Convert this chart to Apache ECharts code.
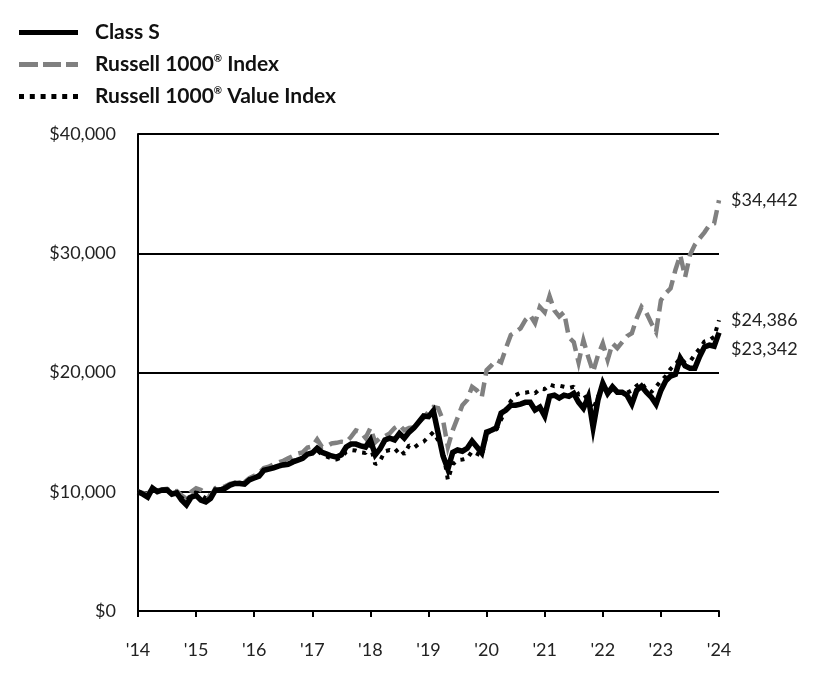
<!DOCTYPE html>
<html>
<head>
<meta charset="utf-8">
<script src="https://cdn.jsdelivr.net/npm/echarts@6/dist/echarts.min.js"></script>
<style>html,body{margin:0;padding:0;background:#fff}#c{width:840px;height:696px}</style>
</head>
<body>
<div id="c"></div>
<script>
const yearLabels = ["'14","'15","'16","'17","'18","'19","'20","'21","'22","'23","'24"];
const yTicks = [0, 10000, 20000, 30000, 40000];

const classS = [
10000,9800,9550,10300,10000,10150,10150,9800,9900,9300,8900,9550,9700,9300,9150,9450,
10150,10150,10300,10550,10700,10700,10650,11000,11150,11300,11800,11900,12000,12150,12250,12300,
12500,12650,12800,13150,13250,13650,13300,13150,13000,12900,13100,13750,14000,14000,13850,13750,
14350,13100,13600,14350,14500,14350,14900,14500,15000,15350,15850,16350,16300,16800,14900,13000,
11900,13300,13500,13400,13650,14250,13750,13250,15000,15150,15350,16600,16850,17250,17250,17350,
17500,17500,16850,17100,16350,18000,18100,17850,18100,18000,18250,17500,17000,17950,15400,17700,
19100,18250,18800,18350,18350,18100,17350,18500,18850,18350,17950,17350,18500,19300,19700,19850,
21200,20550,20350,20350,21350,22150,22300,22200,23342
];

const russell1000 = [
10000,9900,9800,10300,10100,10200,10250,10000,10050,9700,9400,10000,10300,10150,9800,9600,
10300,10350,10450,10650,10750,10800,10800,11150,11350,11550,12000,12100,12300,12450,12600,12800,
13000,13200,13300,13700,13800,14400,13750,13800,14050,14100,14200,14150,14600,15150,15000,14500,
15350,14150,14500,14650,14900,15350,15600,15150,15350,15400,15850,16200,16700,17100,17000,16000,
13750,15150,16200,17250,17700,18800,18500,17950,20200,20600,21050,20850,22050,23150,23400,23700,
24400,24800,24150,25500,25050,26400,25200,24700,25050,22950,22550,20850,22700,21300,20050,21450,
22450,21050,22450,22050,22550,23050,23300,24550,25500,25000,24150,23400,26050,26650,27050,28600,
29850,28000,29850,30700,31250,31750,32350,32500,34442
];

const russellValue = [
10000,9850,9700,10250,10050,10150,10200,9900,9950,9500,9200,9800,9950,9700,9450,9600,
10200,10200,10350,10600,10700,10750,10700,11050,11200,11400,11800,11900,12050,12200,12300,12400,
12600,12700,12850,13200,13300,13500,13100,12950,12800,12700,12900,13350,13500,13450,13300,13250,
13900,12300,12600,13400,13500,13300,13650,13150,13900,13700,14000,14200,14600,15000,14300,13400,
11000,12300,12650,12700,12800,13400,13200,13000,14800,15200,15200,16050,16900,17600,18100,18300,
18300,18400,18250,18650,18600,19000,18850,18900,18800,18700,18800,18150,18250,17600,16900,17950,
18800,18300,18550,18400,18300,18300,18500,18900,19150,18550,18350,18800,19300,19700,20300,20700,
21200,20800,20900,21500,22000,22600,22700,23000,24386
];

const seriesNames = ['Class S', 'Russell 1000® Index', 'Russell 1000® Value Index'];

const fmtMoney = v => '$' + Math.round(v).toLocaleString('en-US');
const toPts = arr => arr.map((v, i) => [i, v]);
const FONT = 'Lato';

// legend icon shapes (59 x 5 box)
const iconSolid = 'path://M0,0H59V5H0Z';
const iconDash = 'path://M0,0H19V5H0Z M24,0H42V5H24Z M47,0H59V5H47Z';
const iconDot = 'path://M0,0H5V5H0Z M10.8,0H15.8V5H10.8Z M21.6,0H26.6V5H21.6Z M32.4,0H37.4V5H32.4Z M43.2,0H48.2V5H43.2Z M54,0H59V5H54Z';

const chart = echarts.init(document.getElementById('c'), null, {renderer: 'canvas'});

const endLabel = (offset) => ({
  show: true,
  formatter: p => fmtMoney(p.value[1]),
  fontFamily: FONT, fontSize: 18, color: '#222',
  distance: 12, offset: offset
});

chart.setOption({
  animation: false,
  backgroundColor: '#fff',
  legend: {
    left: 14, top: 17, orient: 'vertical',
    itemWidth: 59, itemHeight: 5, itemGap: 11,
    data: [
      {name: seriesNames[0], icon: iconSolid, itemStyle: {color: '#000'}},
      {name: seriesNames[1], icon: iconDash, itemStyle: {color: '#808080'}},
      {name: seriesNames[2], icon: iconDot, itemStyle: {color: '#000'}}
    ],
    textStyle: {
      fontFamily: FONT, fontSize: 21, fontWeight: 'bold', color: '#111', padding: [0,0,0,12],
      rich: {
        t: {fontFamily: FONT, fontSize: 21, fontWeight: 'bold', color: '#111'},
        s: {fontFamily: FONT, fontSize: 10, fontWeight: 'bold', color: '#111', verticalAlign: 'top', padding: [0,0,10,0]}
      }
    },
    formatter: name => {
      const parts = name.split('®');
      if (parts.length === 1) return '{t|' + name + '}';
      return '{t|' + parts[0] + '}{s|®}{t|' + parts[1] + '}';
    }
  },
  grid: {left: 138, right: 121, top: 134, bottom: 85, containLabel: false},
  xAxis: {
    type: 'value', min: 0, max: 120, interval: 12,
    axisLine: {show: true, lineStyle: {color: '#000', width: 2}},
    axisTick: {show: true, length: 6, lineStyle: {color: '#000', width: 2}},
    splitLine: {show: false},
    axisLabel: {
      margin: 30, fontFamily: FONT, fontSize: 18, color: '#222',
      formatter: v => yearLabels[Math.round(v / 12)] || ''
    }
  },
  yAxis: {
    type: 'value', min: yTicks[0], max: yTicks[yTicks.length - 1], interval: 10000,
    axisLine: {show: true, lineStyle: {color: '#000', width: 2}},
    axisTick: {show: false},
    splitLine: {show: true, lineStyle: {color: '#000', width: 2}},
    axisLabel: {margin: 22, fontFamily: FONT, fontSize: 18, color: '#222', formatter: v => fmtMoney(v)}
  },
  series: [
    {
      name: seriesNames[1], type: 'line', data: toPts(russell1000),
      showSymbol: false, symbol: 'none',
      lineStyle: {color: '#808080', width: 4.5, type: [14, 7], cap: 'butt', join: 'miter'},
      itemStyle: {color: '#808080'},
      endLabel: endLabel([0, 0]), z: 2
    },
    {
      name: seriesNames[0], type: 'line', data: toPts(classS),
      showSymbol: false, symbol: 'none',
      lineStyle: {color: '#000', width: 5.5, join: 'miter'},
      itemStyle: {color: '#000'},
      endLabel: endLabel([0, 17]), z: 3
    },
    {
      name: seriesNames[2], type: 'line', data: toPts(russellValue),
      showSymbol: false, symbol: 'none',
      lineStyle: {color: '#000', width: 4, type: [4, 6], cap: 'butt'},
      itemStyle: {color: '#000'},
      endLabel: endLabel([0, 0]), z: 4
    }
  ]
});
</script>
</body>
</html>
